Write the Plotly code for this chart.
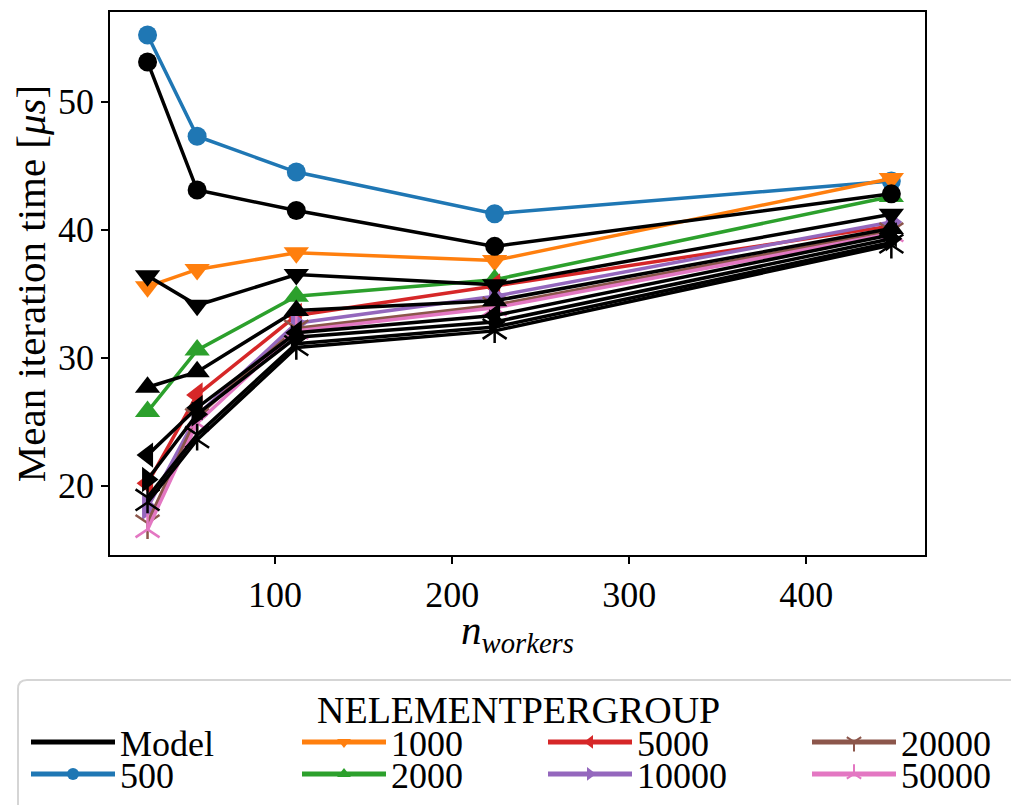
import plotly.graph_objects as go

n_workers = [28, 56, 112, 224, 448]
groups = ["500", "1000", "2000", "5000", "10000", "20000", "50000"]

meas_500 = [55.2, 47.3, 44.5, 41.25, 43.8]
meas_1000 = [35.55, 36.9, 38.2, 37.6, 44.0]
meas_2000 = [25.8, 30.6, 34.8, 36.1, 42.6]
meas_5000 = [20.2, 27.1, 33.3, 35.6, 40.3]
meas_10000 = [18.3, 25.5, 32.7, 34.8, 40.6]
meas_20000 = [17.1, 25.4, 32.3, 34.1, 39.9]
meas_50000 = [16.6, 24.9, 32.1, 33.9, 39.7]

model_500 = [53.1, 43.1, 41.5, 38.7, 42.8]
model_1000 = [36.4, 34.1, 36.5, 35.7, 41.2]
model_2000 = [27.7, 28.9, 33.7, 34.45, 40.1]
model_5000 = [22.4, 26.1, 31.95, 33.3, 39.6]
model_10000 = [20.5, 25.6, 31.6, 32.8, 39.3]
model_20000 = [19.1, 24.0, 31.1, 32.4, 39.0]
model_50000 = [18.7, 23.6, 30.8, 32.1, 38.8]

measured = [meas_500, meas_1000, meas_2000, meas_5000, meas_10000, meas_20000, meas_50000]
models = [model_500, model_1000, model_2000, model_5000, model_10000, model_20000, model_50000]

colors = ["#1f77b4", "#ff7f0e", "#2ca02c", "#d62728", "#9467bd", "#8c564b", "#e377c2"]
symbols = ["circle", "triangle-down", "triangle-up", "triangle-left", "triangle-right", "y-down", "y-up"]

legend_title = "NELEMENTPERGROUP"
x_title = "<i>n</i><sub><i>workers</i></sub>"
y_title = "Mean iteration time [<i>μs</i>]"

FONT = "Liberation Serif"
LW = 3.5


def msize(s):
    return 19 if s == "circle" else (22 if s.startswith("triangle") else 20)


# plot area in screen pixels (page has an 8px body margin)
PL, PR, PT, PB = 110, 925, 12, 555
OFF = 8
W_FIG, H_FIG = 1019 - OFF, 805 - OFF


def px2paper_x(px):
    return (px - PL) / (PR - PL)


def px2paper_y(py):
    return (PB - py) / (PB - PT)


# legend layout: line start px of each column, row centre px
col_line = [31, 302, 548, 812]
row_y = [742, 774]
entry_names = ["Model"] + groups   # column-major in 4 columns x 2 rows
ITEMW = 84

fig = go.Figure()

legend_ids = {}
legend_layouts = {}
for i, name in enumerate(entry_names):
    col, row = divmod(i, 2)
    lid = "legend" if i == 0 else f"legend{i + 1}"
    legend_ids[name] = lid
    legend_layouts[lid] = dict(
        x=px2paper_x(col_line[col] - 5), xanchor="left",
        y=px2paper_y(row_y[row]), yanchor="middle",
        orientation="v", bgcolor="rgba(0,0,0,0)", borderwidth=0,
        font=dict(family=FONT, size=36, color="black"),
        itemsizing="constant", itemwidth=ITEMW,
    )

for g, y, c, s in zip(groups, measured, colors, symbols):
    open_sym = s.startswith("y-")
    fig.add_trace(go.Scatter(
        x=n_workers, y=y, name=g, mode="lines+markers",
        line=dict(color=c, width=LW),
        marker=dict(symbol=s, size=msize(s), color=c,
                    line=dict(color=c, width=2.5 if open_sym else 0)),
        legend=legend_ids[g],
    ))

for g, y, s in zip(groups, models, symbols):
    open_sym = s.startswith("y-")
    fig.add_trace(go.Scatter(
        x=n_workers, y=y, name="Model", mode="lines+markers",
        line=dict(color="black", width=LW),
        marker=dict(symbol=s, size=msize(s), color="black",
                    line=dict(color="black", width=2.5 if open_sym else 0)),
        showlegend=False,
    ))

# legend-only entry for the model lines
fig.add_trace(go.Scatter(
    x=[None], y=[None], name="Model", mode="lines",
    line=dict(color="black", width=LW), legend=legend_ids["Model"],
))

axis_common = dict(
    showgrid=False, zeroline=False, showline=True, mirror=True,
    linecolor="black", linewidth=1.5,
    ticks="outside", ticklen=7, tickwidth=1.5, tickcolor="black",
    tickfont=dict(family=FONT, size=36, color="black"),
)

# legend frame (rounded top corners) in paper coordinates
bx0, bx1 = px2paper_x(18), px2paper_x(1040)
by0, by1 = px2paper_y(680), px2paper_y(830)
rx, ry = 9 / (PR - PL), 9 / (PB - PT)
frame_path = (
    f"M{bx0},{by1} L{bx0},{by0 - ry} Q{bx0},{by0} {bx0 + rx},{by0} "
    f"L{bx1 - rx},{by0} Q{bx1},{by0} {bx1},{by0 - ry} L{bx1},{by1} Z"
)

fig.update_layout(
    width=W_FIG, height=H_FIG,
    paper_bgcolor="white", plot_bgcolor="white",
    margin=dict(l=PL - OFF, r=1019 - PR, t=PT - OFF, b=805 - PB, autoexpand=False),
    font=dict(family=FONT, size=34, color="black"),
    xaxis=dict(range=[6.8, 467], tickvals=[100, 200, 300, 400], **axis_common),
    yaxis=dict(
        range=[14.6, 57.0], tickvals=[20, 30, 40, 50],
        title=dict(text=y_title, standoff=8, font=dict(family=FONT, size=41)),
        **axis_common,
    ),
    shapes=[dict(type="path", path=frame_path, xref="paper", yref="paper",
                 line=dict(color="#d5d5d5", width=2), fillcolor="white",
                 layer="below")],
    annotations=[
        dict(text=legend_title, x=px2paper_x(518), y=px2paper_y(710),
             xref="paper", yref="paper", showarrow=False,
             xanchor="center", yanchor="middle",
             font=dict(family=FONT, size=38, color="black")),
        dict(text=x_title, x=px2paper_x(517), y=px2paper_y(605),
             xref="paper", yref="paper", showarrow=False,
             xanchor="center", yanchor="top",
             font=dict(family=FONT, size=41, color="black")),
    ],
    **legend_layouts,
)

fig.write_html("out.html")
